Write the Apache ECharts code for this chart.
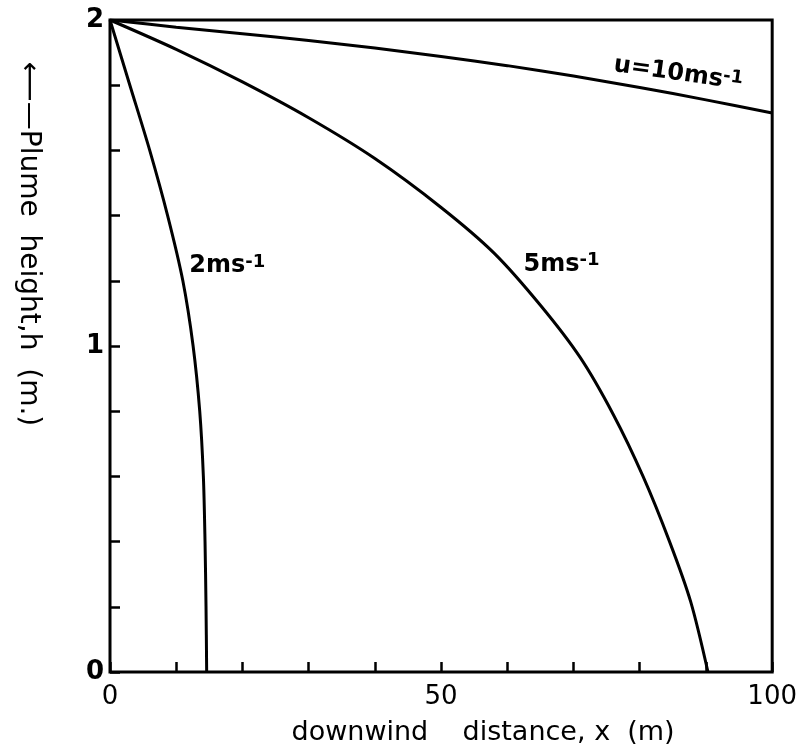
<!DOCTYPE html>
<html>
<head>
<meta charset="utf-8">
<script src="https://cdn.jsdelivr.net/npm/echarts@6/dist/echarts.min.js"></script>
<style>
  html, body { margin: 0; padding: 0; background: #fff; }
  #chart { width: 800px; height: 751px; }
</style>
</head>
<body>
<div id="chart"></div>
<script>
// values: downwind distance x (m) vs plume height h (m)
const x2 = [0, 3, 6, 8.7, 11, 12.55, 13.55, 14.1, 14.35, 14.5, 14.6]
const h2 = [2, 1.8, 1.6, 1.4, 1.2, 1.0, 0.8, 0.6, 0.4, 0.2, 0]

const x5 = [0, 10, 20, 30, 40, 50, 58, 65, 71, 76, 80.5, 84.5, 87.7, 90.3]
const h5 = [2, 1.91, 1.81, 1.7, 1.575, 1.425, 1.285, 1.125, 0.965, 0.79, 0.6, 0.4, 0.215, 0]

const x10 = [0, 10, 20, 30, 40, 50, 60, 70, 80, 90, 100]
const h10 = [2, 1.978, 1.958, 1.937, 1.914, 1.888, 1.86, 1.828, 1.793, 1.755, 1.715]

const xTickLabels = [0, 50, 100]
const yTickLabels = [0, 1, 2]

// curve labels: [text, superscript, x, h, rotation]
const curveLabels = [
  ['2ms', '-1', 17.7, 1.245, 0],
  ['5ms', '-1', 68.2, 1.25, 0],
  ['u=10ms', '-1', 85.8, 1.835, -8],
]

const FONT = 'DejaVu Sans'
const chart = echarts.init(document.getElementById('chart'))

function pairs(xs, ys) {
  return xs.map((x, i) => [x, ys[i]])
}

function labelPoint(i) {
  const [txt, sup, x, h, rot] = curveLabels[i]
  return {
    symbolSize: 0,
    itemStyle: { color: 'transparent' },
    label: {
      show: true,
      position: 'inside',
      rotate: rot,
      formatter: `{a|${txt}}{s|${sup}}`,
      rich: {
        a: { fontFamily: FONT, fontSize: 24, fontWeight: 'bold', color: '#000' },
        s: { fontFamily: FONT, fontSize: 18, fontWeight: 'bold', color: '#000', padding: [0, 0, 8, 0] },
      },
    },
    data: [{ coord: [x, h] }],
  }
}

function curve(xs, ys, i) {
  return {
    type: 'line',
    data: pairs(xs, ys),
    smooth: 0.3,
    showSymbol: false,
    lineStyle: { color: '#000', width: 3 },
    markPoint: labelPoint(i),
  }
}

chart.setOption({
  animation: false,
  grid: {
    left: 110, right: 22, top: 20, bottom: 70,
    show: true, borderColor: '#000', borderWidth: 3,
  },
  xAxis: {
    type: 'value',
    min: 0, max: 100, interval: 10,
    splitLine: { show: false },
    axisLine: { show: false },
    axisTick: { show: true, inside: true, length: 10, lineStyle: { color: '#000', width: 2.5 } },
    axisLabel: {
      margin: 12,
      fontFamily: FONT, fontSize: 26, color: '#000',
      formatter: v => xTickLabels.includes(v) ? String(v) : '',
    },
    name: 'downwind    distance, x  (m)',
    nameLocation: 'middle',
    nameGap: 47,
    nameTextStyle: { fontFamily: FONT, fontSize: 27, color: '#000', padding: [0, 0, 0, 84] },
  },
  yAxis: {
    type: 'value',
    min: 0, max: 2, interval: 0.2,
    splitLine: { show: false },
    axisLine: { show: false },
    axisTick: { show: true, inside: true, length: 10, lineStyle: { color: '#000', width: 2.5 } },
    axisLabel: {
      margin: 6,
      fontFamily: FONT, fontSize: 26, fontWeight: 'bold', color: '#000',
      formatter: v => {
        const r = Math.round(v)
        return Math.abs(v - r) < 1e-6 && yTickLabels.includes(r) ? String(r) : ''
      },
    },
    name: '⟵—Plume  height,h  (m.)',
    nameLocation: 'middle',
    nameRotate: -90,
    nameGap: 68,
    nameTextStyle: { fontFamily: FONT, fontSize: 28, color: '#000', padding: [0, 204, 0, 0] },
  },
  series: [
    curve(x2, h2, 0),
    curve(x5, h5, 1),
    curve(x10, h10, 2),
  ],
})

window.addEventListener('resize', () => chart.resize())
</script>
</body>
</html>
